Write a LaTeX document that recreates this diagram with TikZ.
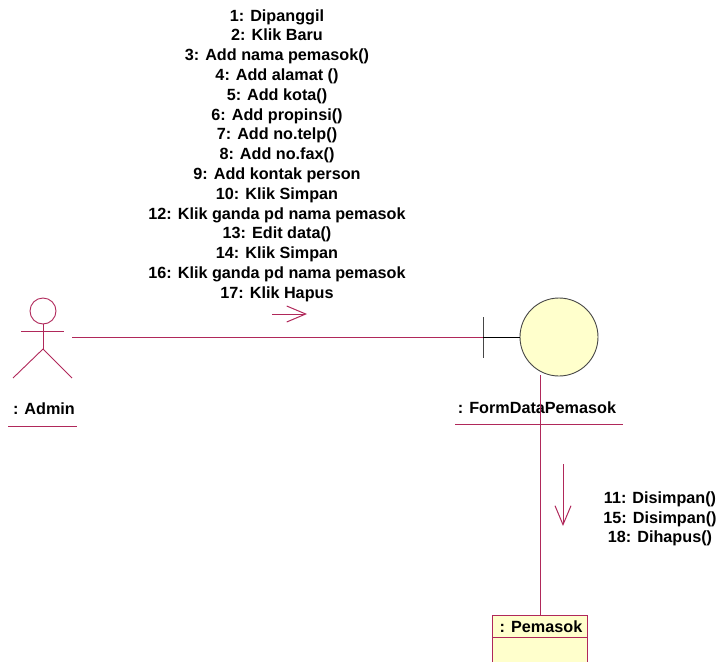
\documentclass[tikz,border=0pt]{standalone}
\usepackage{fontspec}
\setmainfont{Liberation Sans}
\usetikzlibrary{arrows.meta}
\definecolor{rose}{RGB}{176,40,90}
\definecolor{paleyellow}{RGB}{255,255,204}
\definecolor{rim}{RGB}{70,70,70}
\tikzset{
  lbl/.style={font=\bfseries\fontsize{16.2}{19.8}\selectfont, inner sep=0pt, align=center},
  uml/.style={draw=rose, line width=0.9pt},
  msg/.style={draw=rose, line width=1pt, -{Straight Barb[length=19pt,width=16pt,line width=1pt]}}
}
\begin{document}
\begin{tikzpicture}[x=1pt,y=-1pt]
\useasboundingbox (0,0) rectangle (725,661);
% actor
\node[circle, uml, minimum size=26pt, inner sep=0pt] (head) at (43,311) {};
\draw[uml] (21,331) -- (64,331);
\draw[uml] (head.south) -- (43,349) coordinate (hip);
\draw[uml] (hip) -- (13,378);
\draw[uml] (hip) -- (72,378);
\node[lbl] (adminlbl) at (44,409) {: Admin};
\draw[uml] (8,426) -- (77,426);
\coordinate (adminR) at (72,337);
% boundary
\node[circle, draw=rim, fill=paleyellow, line width=0.9pt, minimum size=78pt, inner sep=0pt] (form) at (559,337) {};
\coordinate (bar) at (483,337);
\draw[rim, line width=0.9pt] (483,317) -- (483,358);
\draw[black, line width=0.9pt] (bar) -- (form.west);
\draw[uml] (adminR) -- (bar);
\node[lbl] (formlbl) at (537,408) {: FormDataPemasok};
\draw[uml] (455,424) -- (623,424);
% entity
\fill[paleyellow] (492,615) rectangle (587,663);
\draw[uml] (492,663) -- (492,615) -- (587,615) -- (587,663);
\draw[uml] (492,637) -- (587,637);
\node[lbl] (pemasok) at (541,627) {: Pemasok};
% links
\coordinate (lifeTop) at (540,375);
\coordinate (lifeBot) at (540,615);
\draw[uml] (lifeTop) -- (lifeBot);
% messages
\coordinate (m1s) at (272,314);
\coordinate (m1e) at (307,314);
\draw[msg] (m1s) -- (m1e);
\coordinate (m2s) at (563,464);
\coordinate (m2e) at (563,526);
\draw[msg] (m2s) -- (m2e);
\node[lbl] (toplbl) at (277,155.5) {1: Dipanggil\\2: Klik Baru\\3: Add nama pemasok()\\4: Add alamat ()\\5: Add kota()\\6: Add propinsi()\\7: Add no.telp()\\8: Add no.fax()\\9: Add kontak person\\10: Klik Simpan\\12: Klik ganda pd nama pemasok\\13: Edit data()\\14: Klik Simpan\\16: Klik ganda pd nama pemasok\\17: Klik Hapus};
\node[lbl] (botlbl) at (660,519) {11: Disimpan()\\15: Disimpan()\\18: Dihapus()};
\end{tikzpicture}
\end{document}
